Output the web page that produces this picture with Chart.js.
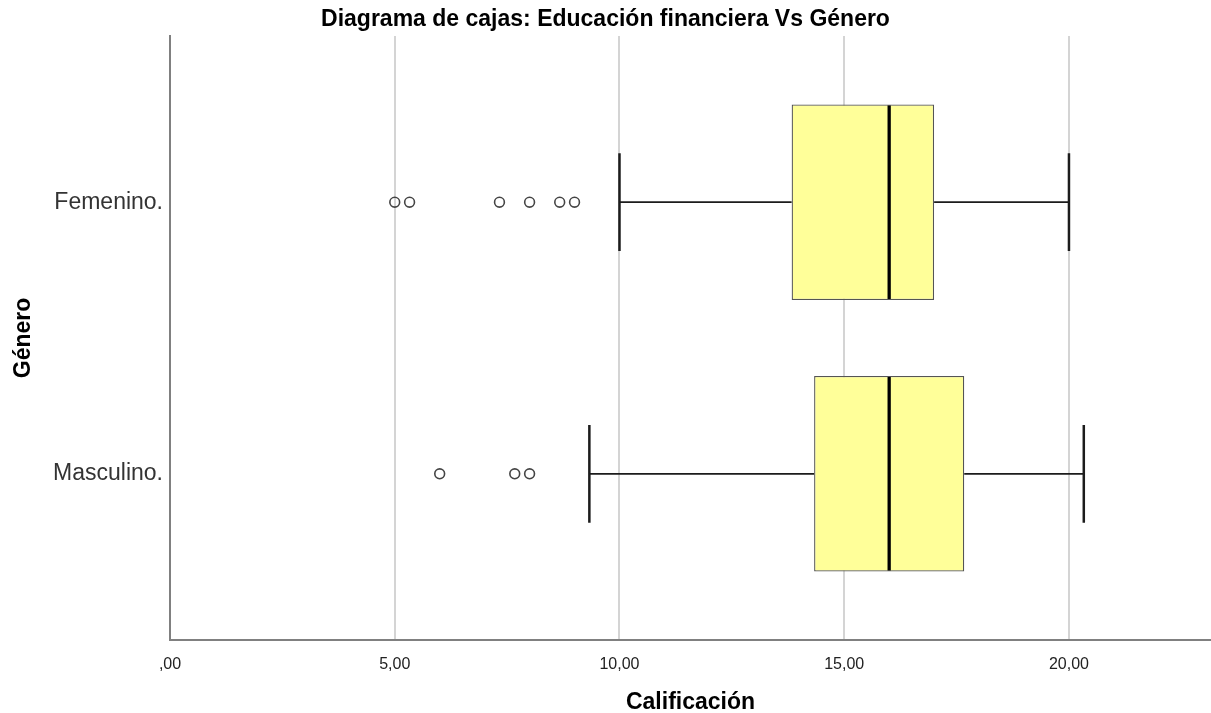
<!DOCTYPE html>
<html>
<head>
<meta charset="utf-8">
<script src="https://cdn.jsdelivr.net/npm/chart.js@4.4.0/dist/chart.umd.min.js"></script>
<style>
  html, body { margin: 0; padding: 0; background: #ffffff; }
  #wrap { width: 1211px; height: 713px; position: relative; }
</style>
</head>
<body>
<div id="wrap"><canvas id="boxplot"></canvas></div>
<script>
// Five-number summaries per gender (Calificación)
const categories = ['Femenino.', 'Masculino.'];
const whiskerLow = [10, 9.33];
const q1 = [13.83, 14.33];
const median = [16, 16];
const q3 = [17, 17.67];
const whiskerHigh = [20, 20.33];
// Outliers beyond the lower whisker
const outliersFemenino = [5, 5.33, 7.33, 8, 8.67, 9];
const outliersMasculino = [6, 7.67, 8];
// Horizontal axis ticks
const tickValues = [0, 5, 10, 15, 20];
const tickLabels = [',00', '5,00', '10,00', '15,00', '20,00'];

const FONT = "'Liberation Sans', Arial, sans-serif";

const boxData = categories.map((c, i) => ({ x: [q1[i], q3[i]], y: i }));
const outlierData = [
  ...outliersFemenino.map(v => ({ x: v, y: 0 })),
  ...outliersMasculino.map(v => ({ x: v, y: 1 }))
];

// Whiskers, caps and median lines, positioned through the chart scales
const whiskerPlugin = {
  id: 'whiskers',
  afterDatasetsDraw(chart) {
    const { ctx, scales: { x, y } } = chart;
    const bars = chart.getDatasetMeta(0).data;
    ctx.save();
    ctx.lineCap = 'butt';
    categories.forEach((c, i) => {
      const yc = y.getPixelForValue(i);
      const half = bars[i].height / 2;
      const capHalf = half / 2;
      const xl = x.getPixelForValue(whiskerLow[i]);
      const x1 = x.getPixelForValue(q1[i]);
      const xm = x.getPixelForValue(median[i]);
      const x3 = x.getPixelForValue(q3[i]);
      const xh = x.getPixelForValue(whiskerHigh[i]);

      ctx.strokeStyle = '#1c1c1c';
      ctx.lineWidth = 1.7;
      ctx.beginPath();
      ctx.moveTo(xl, yc); ctx.lineTo(x1, yc);
      ctx.moveTo(x3, yc); ctx.lineTo(xh, yc);
      ctx.stroke();

      ctx.lineWidth = 2.5;
      ctx.beginPath();
      ctx.moveTo(xl, yc - capHalf); ctx.lineTo(xl, yc + capHalf);
      ctx.moveTo(xh, yc - capHalf); ctx.lineTo(xh, yc + capHalf);
      ctx.stroke();

      ctx.strokeStyle = '#000000';
      ctx.lineWidth = 3.3;
      ctx.beginPath();
      ctx.moveTo(xm, yc - half + 1); ctx.lineTo(xm, yc + half - 1);
      ctx.stroke();
    });
    ctx.restore();
  }
};

new Chart(document.getElementById('boxplot'), {
  type: 'bar',
  data: {
    datasets: [
      {
        type: 'bar',
        data: boxData,
        backgroundColor: '#FFFF99',
        borderColor: '#555555',
        borderWidth: 1.3,
        borderSkipped: false,
        categoryPercentage: 1.0,
        barPercentage: 0.72,
        order: 2
      },
      {
        type: 'scatter',
        data: outlierData,
        pointStyle: 'circle',
        pointRadius: 4.9,
        pointHoverRadius: 4.9,
        pointBorderWidth: 1.6,
        pointBorderColor: '#444444',
        pointBackgroundColor: 'rgba(255,255,255,0)',
        order: 1
      }
    ]
  },
  options: {
    indexAxis: 'y',
    responsive: true,
    maintainAspectRatio: false,
    animation: false,
    events: [],
    layout: { padding: 0, autoPadding: false },
    plugins: {
      legend: { display: false },
      tooltip: { enabled: false },
      title: {
        display: true,
        text: 'Diagrama de cajas: Educación financiera Vs Género',
        color: '#000000',
        font: { family: FONT, size: 23, weight: 'bold' },
        padding: { top: 6, bottom: 2.4 }
      }
    },
    scales: {
      x: {
        type: 'linear',
        min: 0,
        max: 23.16,
        offset: false,
        afterBuildTicks: s => { s.ticks = tickValues.map(v => ({ value: v })); },
        afterFit: s => { s.height = 73; },
        ticks: {
          autoSkip: false,
          maxRotation: 0,
          padding: 15,
          color: '#222222',
          font: { family: FONT, size: 16 },
          callback: (v, i) => tickLabels[i]
        },
        grid: { color: '#d4d4d4', lineWidth: 2, drawTicks: false, offset: false },
        border: { display: true, color: '#808080', width: 2 },
        title: {
          display: true,
          text: 'Calificación',
          color: '#000000',
          font: { family: FONT, size: 23, weight: 'bold', lineHeight: 0.9 },
          padding: { top: 0, bottom: 0 }
        }
      },
      y: {
        type: 'linear',
        min: -0.612,
        max: 1.612,
        reverse: true,
        offset: false,
        afterBuildTicks: s => { s.ticks = categories.map((c, i) => ({ value: i })); },
        afterFit: s => { s.width = 170; },
        ticks: {
          autoSkip: false,
          padding: 7,
          color: '#333333',
          font: { family: FONT, size: 23 },
          callback: v => categories[v]
        },
        grid: { color: 'rgba(0,0,0,0)', drawTicks: false, offset: false },
        border: { display: true, color: '#808080', width: 2 },
        title: {
          display: true,
          text: 'Género',
          color: '#000000',
          font: { family: FONT, size: 23, weight: 'bold', lineHeight: 1 },
          padding: { top: 12, bottom: 0 }
        }
      }
    }
  },
  plugins: [whiskerPlugin]
});
</script>
</body>
</html>
